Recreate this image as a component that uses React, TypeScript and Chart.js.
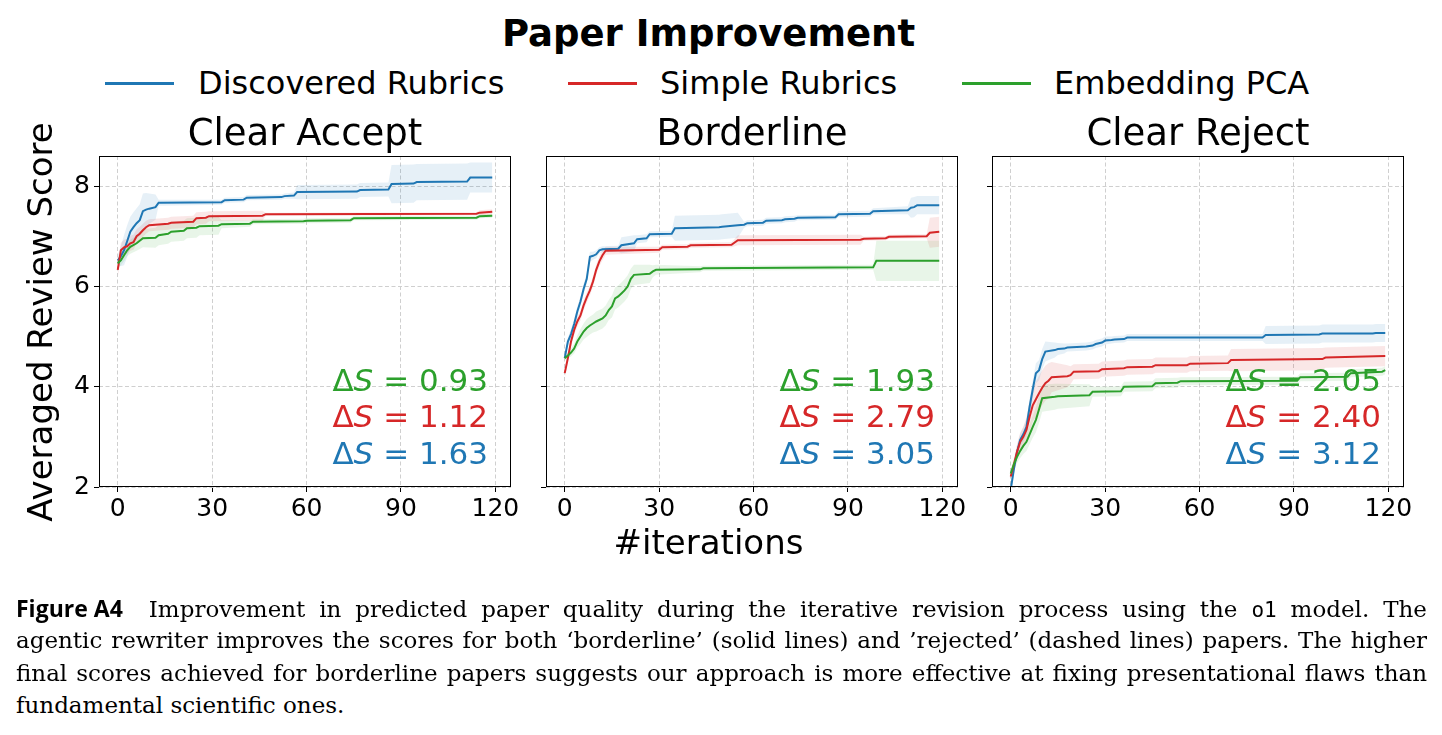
import React, { useEffect, useLayoutEffect, useRef } from 'react';
import { Chart, registerables } from 'chart.js';

Chart.register(...registerables);

type Row = [number, number, number]; // [iteration, mean score, std]

const FIG_TITLE = 'Paper Improvement';
const SERIES_NAMES = ['Discovered Rubrics', 'Simple Rubrics', 'Embedding PCA'];
const SERIES_COLORS = ['#1f77b4', '#d62728', '#2ca02c'];
const BAND_COLORS = ['rgba(31,119,180,0.11)', 'rgba(214,39,40,0.11)', 'rgba(44,160,44,0.11)'];
const PANEL_TITLES = ['Clear Accept', 'Borderline', 'Clear Reject'];
const X_TICKS = [0, 30, 60, 90, 120];
const Y_TICKS = [2, 4, 6, 8];
const X_MIN = -5.95;
const X_MAX = 124.95;
const Y_MIN = 2;
const Y_MAX = 8.6;
const Y_LABEL = 'Averaged Review Score';
const X_LABEL = '#iterations';

// ΔS per panel, in series order (Discovered, Simple, PCA)
const DELTA_CLEAR_ACCEPT = ['1.63', '1.12', '0.93'];
const DELTA_BORDERLINE = ['3.05', '2.79', '1.93'];
const DELTA_CLEAR_REJECT = ['3.12', '2.40', '2.05'];

// ---------- Clear Accept ----------
const CLEAR_ACCEPT_DISCOVERED: Row[] = [
  [0, 6.52, 0.10], [1, 6.60, 0.20], [2, 6.72, 0.30], [3, 6.90, 0.32], [4, 7.09, 0.30],
  [5, 7.18, 0.30], [6, 7.26, 0.30], [7, 7.32, 0.32], [8, 7.50, 0.35], [9, 7.53, 0.33],
  [10, 7.55, 0.30], [12, 7.58, 0.25], [13, 7.67, 0.06], [33, 7.68, 0.05], [34, 7.72, 0.05],
  [40, 7.73, 0.05], [41, 7.77, 0.05], [52, 7.78, 0.05], [53, 7.80, 0.05], [56, 7.81, 0.06],
  [57, 7.88, 0.14], [76, 7.89, 0.14], [77, 7.92, 0.14], [86, 7.93, 0.14], [87, 8.04, 0.38],
  [94, 8.05, 0.38], [95, 8.08, 0.36], [111, 8.09, 0.36], [112, 8.17, 0.30], [119, 8.17, 0.30],
];
const CLEAR_ACCEPT_SIMPLE: Row[] = [
  [0, 6.33, 0.15], [1, 6.72, 0.15], [2, 6.78, 0.15], [3, 6.80, 0.15], [4, 6.86, 0.15],
  [5, 6.88, 0.15], [6, 7.00, 0.14], [7, 7.05, 0.14], [8, 7.12, 0.13], [9, 7.18, 0.13],
  [10, 7.22, 0.12], [16, 7.25, 0.12], [17, 7.27, 0.12], [24, 7.29, 0.12], [25, 7.36, 0.12],
  [28, 7.37, 0.12], [29, 7.40, 0.10], [46, 7.41, 0.10], [47, 7.44, 0.03], [114, 7.45, 0.03],
  [115, 7.47, 0.05], [119, 7.49, 0.05],
];
const CLEAR_ACCEPT_PCA: Row[] = [
  [0, 6.46, 0.10], [1, 6.52, 0.10], [2, 6.62, 0.12], [3, 6.72, 0.12], [4, 6.79, 0.14],
  [6, 6.86, 0.15], [8, 6.96, 0.18], [12, 6.97, 0.20], [13, 7.02, 0.20], [16, 7.05, 0.20],
  [17, 7.09, 0.20], [21, 7.11, 0.20], [22, 7.16, 0.20], [25, 7.17, 0.20], [26, 7.20, 0.18],
  [32, 7.21, 0.18], [33, 7.24, 0.08], [42, 7.25, 0.06], [43, 7.29, 0.05], [59, 7.30, 0.05],
  [60, 7.31, 0.05], [74, 7.32, 0.05], [75, 7.36, 0.04], [114, 7.37, 0.04], [115, 7.40, 0.04],
  [119, 7.41, 0.04],
];

// ---------- Borderline ----------
const BORDERLINE_DISCOVERED: Row[] = [
  [0, 4.57, 0.05], [1, 4.90, 0.08], [2, 5.05, 0.10], [3, 5.25, 0.10], [4, 5.50, 0.10],
  [5, 5.70, 0.10], [6, 5.95, 0.10], [7, 6.15, 0.10], [8, 6.59, 0.10], [9, 6.61, 0.08],
  [10, 6.64, 0.08], [11, 6.72, 0.06], [12, 6.74, 0.06], [17, 6.75, 0.06], [18, 6.82, 0.16],
  [22, 6.86, 0.16], [23, 6.94, 0.08], [26, 6.96, 0.08], [27, 7.04, 0.06], [34, 7.05, 0.06],
  [35, 7.16, 0.25], [49, 7.18, 0.25], [50, 7.19, 0.25], [55, 7.22, 0.25], [57, 7.23, 0.06],
  [58, 7.26, 0.06], [63, 7.27, 0.06], [64, 7.31, 0.06], [69, 7.32, 0.06], [70, 7.34, 0.06],
  [73, 7.35, 0.06], [74, 7.37, 0.05], [86, 7.38, 0.05], [87, 7.44, 0.06], [97, 7.45, 0.06],
  [98, 7.50, 0.06], [109, 7.52, 0.08], [110, 7.57, 0.20], [111, 7.58, 0.20], [112, 7.62, 0.18],
  [119, 7.62, 0.18],
];
const BORDERLINE_SIMPLE: Row[] = [
  [0, 4.27, 0.10], [1, 4.57, 0.10], [2, 4.90, 0.10], [3, 5.13, 0.10], [4, 5.30, 0.10],
  [5, 5.42, 0.10], [6, 5.62, 0.10], [7, 5.78, 0.10], [8, 5.92, 0.10], [9, 6.10, 0.10],
  [10, 6.33, 0.10], [11, 6.50, 0.10], [12, 6.62, 0.10], [13, 6.71, 0.08], [30, 6.73, 0.06],
  [31, 6.78, 0.05], [39, 6.79, 0.05], [40, 6.82, 0.05], [53, 6.83, 0.05], [55, 6.92, 0.10],
  [94, 6.93, 0.10], [95, 6.95, 0.04], [102, 6.96, 0.04], [103, 6.99, 0.04], [115, 7.00, 0.04],
  [116, 7.07, 0.30], [119, 7.09, 0.30],
];
const BORDERLINE_PCA: Row[] = [
  [0, 4.57, 0.05], [1, 4.62, 0.06], [2, 4.68, 0.08], [3, 4.76, 0.10], [4, 4.90, 0.12],
  [5, 5.00, 0.15], [6, 5.10, 0.16], [7, 5.17, 0.18], [8, 5.22, 0.18], [9, 5.26, 0.18],
  [10, 5.30, 0.20], [12, 5.36, 0.20], [13, 5.42, 0.20], [14, 5.53, 0.20], [15, 5.60, 0.22],
  [16, 5.76, 0.22], [17, 5.80, 0.22], [18, 5.86, 0.22], [19, 5.92, 0.22], [20, 6.00, 0.22],
  [21, 6.15, 0.20], [22, 6.23, 0.20], [27, 6.25, 0.18], [28, 6.30, 0.12], [29, 6.33, 0.10],
  [43, 6.34, 0.06], [44, 6.36, 0.05], [98, 6.38, 0.05], [99, 6.51, 0.40], [119, 6.51, 0.40],
];

// ---------- Clear Reject ----------
const CLEAR_REJECT_DISCOVERED: Row[] = [
  [0, 1.95, 0.10], [1, 2.35, 0.10], [2, 2.70, 0.12], [3, 2.94, 0.12], [4, 3.05, 0.14],
  [5, 3.20, 0.15], [6, 3.60, 0.16], [7, 3.95, 0.18], [8, 4.27, 0.20], [9, 4.33, 0.20],
  [10, 4.55, 0.20], [11, 4.70, 0.20], [14, 4.73, 0.15], [15, 4.75, 0.12], [17, 4.76, 0.10],
  [18, 4.78, 0.08], [24, 4.80, 0.08], [26, 4.82, 0.08], [27, 4.85, 0.08], [29, 4.88, 0.08],
  [30, 4.92, 0.08], [32, 4.93, 0.07], [33, 4.94, 0.07], [36, 4.95, 0.07], [37, 4.98, 0.07],
  [80, 4.98, 0.07], [81, 5.03, 0.18], [98, 5.04, 0.18], [99, 5.06, 0.18], [115, 5.06, 0.18],
  [116, 5.07, 0.18], [119, 5.07, 0.18],
];
const CLEAR_REJECT_SIMPLE: Row[] = [
  [0, 2.21, 0.10], [1, 2.45, 0.12], [2, 2.70, 0.15], [3, 2.90, 0.18], [4, 3.00, 0.20],
  [5, 3.14, 0.25], [6, 3.40, 0.30], [7, 3.63, 0.33], [8, 3.75, 0.35], [9, 3.87, 0.35],
  [10, 3.98, 0.35], [11, 4.07, 0.35], [12, 4.12, 0.35], [13, 4.19, 0.30], [18, 4.21, 0.22],
  [19, 4.23, 0.18], [20, 4.30, 0.15], [28, 4.31, 0.15], [29, 4.35, 0.15], [36, 4.37, 0.15],
  [37, 4.39, 0.15], [45, 4.40, 0.15], [46, 4.43, 0.15], [56, 4.43, 0.15], [57, 4.46, 0.15],
  [69, 4.47, 0.15], [70, 4.53, 0.22], [99, 4.55, 0.22], [100, 4.58, 0.20], [119, 4.61, 0.20],
];
const CLEAR_REJECT_PCA: Row[] = [
  [0, 2.27, 0.10], [1, 2.45, 0.10], [2, 2.60, 0.12], [3, 2.72, 0.14], [4, 2.82, 0.16],
  [5, 2.90, 0.18], [6, 3.05, 0.20], [7, 3.20, 0.22], [8, 3.34, 0.25], [9, 3.55, 0.27],
  [10, 3.77, 0.27], [14, 3.80, 0.26], [15, 3.81, 0.25], [25, 3.83, 0.22], [26, 3.90, 0.10],
  [35, 3.91, 0.10], [36, 4.00, 0.10], [45, 4.01, 0.10], [46, 4.07, 0.10], [53, 4.08, 0.10],
  [54, 4.11, 0.08], [91, 4.12, 0.08], [92, 4.19, 0.08], [107, 4.20, 0.08], [108, 4.27, 0.08],
  [118, 4.30, 0.08], [119, 4.33, 0.08],
];

const PANEL_SERIES: Row[][][] = [
  [CLEAR_ACCEPT_DISCOVERED, CLEAR_ACCEPT_SIMPLE, CLEAR_ACCEPT_PCA],
  [BORDERLINE_DISCOVERED, BORDERLINE_SIMPLE, BORDERLINE_PCA],
  [CLEAR_REJECT_DISCOVERED, CLEAR_REJECT_SIMPLE, CLEAR_REJECT_PCA],
];
const PANEL_DELTAS = [DELTA_CLEAR_ACCEPT, DELTA_BORDERLINE, DELTA_CLEAR_REJECT];

type Seg = { t: string; k?: 'bold' | 'mono' };
const CAPTION_LINES: Seg[][] = [
  [
    { t: 'Figure A4', k: 'bold' },
    { t: 'Improvement in predicted paper quality during the iterative revision process using the ' },
    { t: 'o1', k: 'mono' },
    { t: ' model. The' },
  ],
  [{ t: 'agentic rewriter improves the scores for both \u2018borderline\u2019 (solid lines) and \u2019rejected\u2019 (dashed lines) papers. The higher' }],
  [{ t: 'final scores achieved for borderline papers suggests our approach is more effective at fixing presentational flaws than' }],
  [{ t: 'fundamental scientific ones.' }],
];

// ---------- layout (page pixels) ----------
const FONT = '"DejaVu Sans", Verdana, sans-serif';
const PLOT_LEFTS = [99, 546, 992];
const PLOT_W = 412;
const PLOT_TOP = 156;
const PLOT_H = 331;
const CANVAS_TOP = 100;
const TITLE_BLOCK = PLOT_TOP - CANVAS_TOP;
const X_AXIS_H = 45;
const PAD_R = 30;
const CAPTION_LEFT = 16;
const CAPTION_WIDTH = 1411;

const panelDecor = {
  id: 'panelDecor',
  afterDatasetsDraw(chart: any, _args: any, opts: any) {
    const { ctx, chartArea: a } = chart;
    ctx.save();
    ctx.strokeStyle = '#000';
    ctx.lineWidth = 1;
    const l = Math.round(a.left) + 0.5;
    const t = Math.round(a.top) + 0.5;
    const r = Math.round(a.right) - 0.5;
    const b = Math.round(a.bottom) - 0.5;
    ctx.strokeRect(l, t, r - l, b - t);

    const size = 31;
    const normal = `${size}px ${FONT}`;
    const italic = `italic ${size}px ${FONT}`;
    const order = [2, 1, 0];
    order.forEach((s: number, k: number) => {
      const baseline = a.bottom - 23 - (2 - k) * 36.7;
      const parts: [string, string][] = [
        ['\u0394', normal],
        ['S', italic],
        [' = ' + opts.deltas[s], normal],
      ];
      let total = 0;
      const widths = parts.map(([txt, f]) => {
        ctx.font = f;
        const w = ctx.measureText(txt).width;
        total += w;
        return w;
      });
      let x = a.right - 23 - total;
      ctx.fillStyle = SERIES_COLORS[s];
      ctx.textBaseline = 'alphabetic';
      ctx.textAlign = 'left';
      parts.forEach(([txt, f], i) => {
        ctx.font = f;
        ctx.fillText(txt, x, baseline);
        x += widths[i];
      });
    });
    ctx.restore();
  },
};

function buildConfig(p: number, yW: number, padL: number): any {
  const series = PANEL_SERIES[p];
  const datasets: any[] = [];
  [2, 1, 0].forEach((s) => {
    datasets.push({
      label: SERIES_NAMES[s],
      data: series[s].map((r) => ({ x: r[0], y: r[1] })),
      borderColor: SERIES_COLORS[s],
      borderWidth: 2,
      pointRadius: 0,
      fill: false,
      tension: 0,
    });
  });
  [0, 1, 2].forEach((s) => {
    const upper = datasets.length;
    datasets.push({
      label: SERIES_NAMES[s] + ' +std',
      data: series[s].map((r) => ({ x: r[0], y: r[1] + r[2] })),
      borderWidth: 0,
      borderColor: 'rgba(0,0,0,0)',
      pointRadius: 0,
      fill: false,
      tension: 0,
    });
    datasets.push({
      label: SERIES_NAMES[s] + ' -std',
      data: series[s].map((r) => ({ x: r[0], y: r[1] - r[2] })),
      borderWidth: 0,
      borderColor: 'rgba(0,0,0,0)',
      backgroundColor: BAND_COLORS[s],
      pointRadius: 0,
      fill: { target: upper },
      tension: 0,
    });
  });

  const grid = {
    color: '#cfcfcf',
    lineWidth: 1,
    drawTicks: true,
    tickLength: 5,
    tickColor: '#000',
    tickWidth: 1,
  };

  return {
    type: 'line',
    data: { datasets },
    options: {
      responsive: false,
      animation: false,
      events: [],
      layout: { padding: { left: padL, right: PAD_R, top: 0, bottom: 0 } },
      scales: {
        x: {
          type: 'linear',
          min: X_MIN,
          max: X_MAX,
          bounds: 'data',
          afterBuildTicks: (sc: any) => {
            sc.ticks = X_TICKS.map((v) => ({ value: v }));
          },
          afterFit: (sc: any) => {
            sc.height = X_AXIS_H;
          },
          grid,
          border: { display: false, dash: [4, 2.5] },
          ticks: {
            font: { family: FONT, size: 25, lineHeight: 1.2 },
            color: '#000',
            padding: 2,
            maxRotation: 0,
            autoSkip: false,
          },
        },
        y: {
          type: 'linear',
          min: Y_MIN,
          max: Y_MAX,
          bounds: 'data',
          afterBuildTicks: (sc: any) => {
            sc.ticks = Y_TICKS.map((v) => ({ value: v }));
          },
          afterFit: (sc: any) => {
            sc.width = yW;
          },
          grid,
          border: { display: false, dash: [4, 2.5] },
          ticks: {
            display: p === 0,
            font: { family: FONT, size: 25, lineHeight: 1.2 },
            color: '#000',
            padding: 4,
          },
        },
      },
      plugins: {
        legend: { display: false },
        tooltip: { enabled: false },
        title: {
          display: true,
          text: PANEL_TITLES[p],
          fullSize: false,
          color: '#000',
          font: { family: FONT, size: 37, weight: 'normal', lineHeight: 1 },
          padding: { top: 16.5, bottom: TITLE_BLOCK - 16.5 - 37 },
        },
        panelDecor: { deltas: PANEL_DELTAS[p] },
      },
    },
    plugins: [panelDecor],
  };
}

function Panel({ p }: { p: number }) {
  const ref = useRef<HTMLCanvasElement>(null);
  const yW = p === 0 ? 45 : 10;
  const padL = p === 0 ? 5 : 0;
  const left = PLOT_LEFTS[p] - yW - padL;
  const width = padL + yW + PLOT_W + PAD_R;
  const height = TITLE_BLOCK + PLOT_H + X_AXIS_H;
  useEffect(() => {
    const chart = new Chart(ref.current as HTMLCanvasElement, buildConfig(p, yW, padL));
    return () => chart.destroy();
  }, [p]);
  return (
    <canvas
      ref={ref}
      width={width}
      height={height}
      style={{ position: 'absolute', left, top: CANVAS_TOP, width, height }}
    />
  );
}

function CaptionLine({ segs, top, justify }: { segs: Seg[]; top: number; justify: boolean }) {
  const ref = useRef<HTMLSpanElement>(null);
  useLayoutEffect(() => {
    const el = ref.current;
    if (!el || !justify) return;
    const fit = () => {
      el.style.wordSpacing = '0px';
      const natural = el.getBoundingClientRect().width;
      let spaces = 0;
      segs.forEach((s) => {
        if (s.k !== 'bold') spaces += (s.t.match(/ /g) || []).length;
      });
      if (spaces > 0) el.style.wordSpacing = `${(CAPTION_WIDTH - natural) / spaces}px`;
    };
    fit();
    const fonts: any = (document as any).fonts;
    if (fonts && fonts.ready) fonts.ready.then(fit);
  }, []);
  return (
    <div
      style={{
        position: 'absolute',
        left: CAPTION_LEFT,
        top,
        height: 32,
        lineHeight: '32px',
        fontSize: 23,
        fontFamily: '"DejaVu Serif", "Liberation Serif", serif',
        color: '#000',
        whiteSpace: 'nowrap',
      }}
    >
      <span ref={ref} style={{ display: 'inline-block', whiteSpace: 'nowrap' }}>
        {segs.map((s, i) =>
          s.k === 'bold' ? (
            <span
              key={i}
              style={{
                fontFamily: '"Open Sans", "Liberation Sans", sans-serif',
                fontWeight: 700,
                fontSize: 23,
                wordSpacing: 'normal',
                marginRight: 26,
              }}
            >
              {s.t}
            </span>
          ) : s.k === 'mono' ? (
            <span key={i} style={{ fontFamily: '"DejaVu Sans Mono", "Liberation Mono", monospace', fontSize: 21 }}>
              {s.t}
            </span>
          ) : (
            <span key={i}>{s.t}</span>
          )
        )}
      </span>
    </div>
  );
}

const LEGEND_POS = [
  { line: 105, text: 198 },
  { line: 568, text: 660 },
  { line: 962, text: 1054 },
];

export default function App() {
  return (
    <div
      style={{
        position: 'absolute',
        left: 0,
        top: 0,
        width: 1442,
        height: 735,
        background: '#fff',
        overflow: 'hidden',
        fontFamily: FONT,
        color: '#000',
      }}
    >
      <div
        style={{
          position: 'absolute',
          left: 0,
          top: 14.7,
          width: 1417,
          textAlign: 'center',
          fontSize: 37,
          lineHeight: '37px',
          fontWeight: 'bold',
          whiteSpace: 'nowrap',
        }}
      >
        {FIG_TITLE}
      </div>

      {SERIES_NAMES.map((name, i) => (
        <React.Fragment key={name}>
          <div
            style={{
              position: 'absolute',
              left: LEGEND_POS[i].line,
              top: 82,
              width: 69,
              height: 3,
              background: SERIES_COLORS[i],
            }}
          />
          <div
            style={{
              position: 'absolute',
              left: LEGEND_POS[i].text,
              top: 67.4,
              fontSize: 32,
              lineHeight: '32px',
              whiteSpace: 'nowrap',
            }}
          >
            {name}
          </div>
        </React.Fragment>
      ))}

      {[0, 1, 2].map((p) => (
        <Panel key={p} p={p} />
      ))}

      <div
        style={{
          position: 'absolute',
          left: 40 - 300,
          top: PLOT_TOP + PLOT_H / 2 - 17,
          width: 600,
          height: 34,
          lineHeight: '34px',
          fontSize: 34,
          textAlign: 'center',
          whiteSpace: 'nowrap',
          transform: 'rotate(-90deg)',
          transformOrigin: '50% 50%',
        }}
      >
        {Y_LABEL}
      </div>

      <div
        style={{
          position: 'absolute',
          left: 0,
          top: 525.2,
          width: 1417,
          textAlign: 'center',
          fontSize: 34,
          lineHeight: '34px',
          whiteSpace: 'nowrap',
        }}
      >
        {X_LABEL}
      </div>

      {CAPTION_LINES.map((segs, i) => (
        <CaptionLine key={i} segs={segs} top={592 + 32.3 * i} justify={i < CAPTION_LINES.length - 1} />
      ))}
    </div>
  );
}
